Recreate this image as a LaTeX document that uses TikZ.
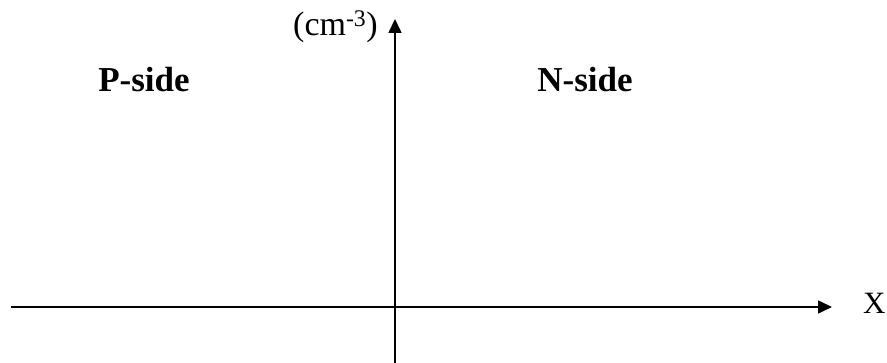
\documentclass[tikz,border=0pt]{standalone}
\usepackage{fontspec}
\setmainfont{Liberation Serif}
\usetikzlibrary{arrows.meta}
\tikzset{axis/.style={line width=1.6pt,-{Triangle[length=14pt,width=13pt]}},
  side/.style={font=\fontsize{35}{40}\selectfont\bfseries,inner sep=0pt,anchor=base},
  axlabel/.style={font=\fontsize{34}{40}\selectfont,inner sep=0pt,anchor=base west}}
\begin{document}
\begin{tikzpicture}[x=1pt,y=-1pt]
\useasboundingbox (0,0) rectangle (887,363);

\coordinate (xstart) at (11,307);
\coordinate (xend) at (832,307);
\coordinate (ystart) at (395,363);
\coordinate (yend) at (395,19);
\draw[axis] (xstart) -- (xend);
\draw[axis] (ystart) -- (yend);

\node[side] (pside) at (144,92) {P-side};
\node[side] (nside) at (585,92) {N-side};
\node[axlabel] (unit) at (293,36) {(cm\textsuperscript{-3})};
\node[axlabel,font=\fontsize{31}{36}\selectfont] (xlabel) at (863,314) {X};

\end{tikzpicture}
\end{document}
